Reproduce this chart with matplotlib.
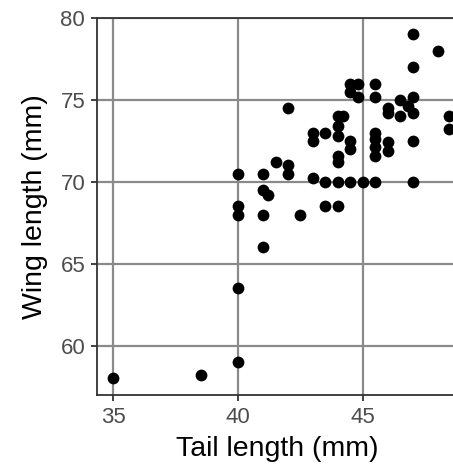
import matplotlib
matplotlib.use("Agg")
import matplotlib.pyplot as plt

############################################
# data
############################################
tail = [35, 38.5, 40, 40, 40, 40, 40,
        41, 41, 41, 41.2, 41, 41.5, 42, 42, 42, 42.5,
        43, 43, 43, 43.5, 43.5, 43.5,
        44, 44.2, 44, 44, 44, 44, 44, 44,
        44.5, 44.5, 44.5, 44.5, 44.8, 44.5, 44.8, 45,
        45.5, 45.5, 45.5, 45.5, 45.5, 45.5, 45.5,
        46, 46, 46, 46, 46.5, 46.5, 46.8,
        47, 47, 47, 47, 47, 47, 48, 48.45, 48.45]
wing = [58, 58.2, 59, 63.5, 68, 68.5, 70.5,
        66, 68, 69.5, 69.2, 70.5, 71.2, 71, 70.5, 74.5, 68,
        73, 72.5, 70.2, 73, 70, 68.5,
        74, 74, 73.4, 72.8, 71.6, 71.2, 70, 68.5,
        72.5, 72, 70, 76, 76, 75.5, 75.2, 70,
        76, 75.2, 73, 72.6, 72.1, 71.6, 70,
        74.5, 74.2, 72.4, 71.9, 75, 74, 74.6,
        75.2, 74.2, 72.5, 70, 77, 79, 78, 74, 73.2]

x_ticks = [35, 40, 45]
y_ticks = [60, 65, 70, 75, 80]

############################################
# plot
############################################
plt.rcParams["font.family"] = ["Liberation Sans", "DejaVu Sans"]

fig = plt.figure(figsize=(4.53, 4.68), dpi=100)
ax = fig.add_axes([97 / 453, 1 - 395 / 468, 1 - 97 / 453 + 0.01, (395 - 18) / 468])

ax.scatter(tail, wing, s=72, color="black", zorder=3, linewidths=0, clip_on=True)

ax.set_xlim(34.34, 48.8)
ax.set_ylim(56.98, 80.0)
ax.set_xticks(x_ticks)
ax.set_yticks(y_ticks)

ax.grid(True, color="#8a8a8a", linewidth=1.6, zorder=0)
ax.set_axisbelow(True)

for side in ["left", "bottom", "top"]:
    ax.spines[side].set_color("#333333")
    ax.spines[side].set_linewidth(1.3)
ax.spines["right"].set_visible(False)

ax.tick_params(axis="both", length=4.5, width=1.3, color="#333333",
               labelcolor="#4d4d4d", labelsize=16, pad=4)

ax.set_xlabel("Tail length (mm)", fontsize=20.5, labelpad=6)
ax.set_ylabel("Wing length (mm)", fontsize=20.5, labelpad=9)

fig.savefig("out.png", dpi=100)
